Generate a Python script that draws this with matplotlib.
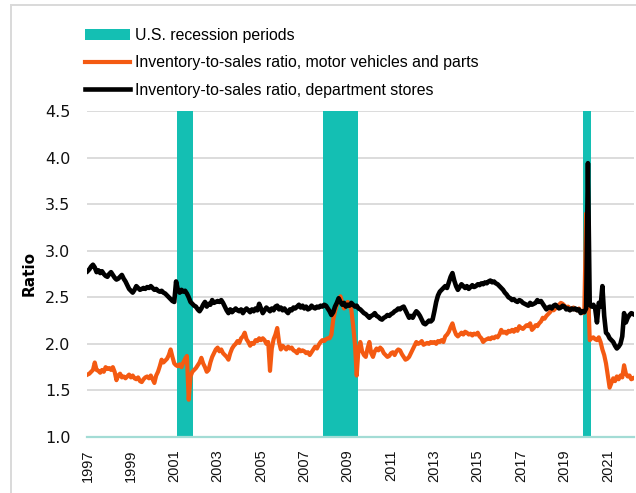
import pandas as pd
import numpy as np
import matplotlib
matplotlib.use("Agg")
import matplotlib.pyplot as plt
from matplotlib import ticker
import matplotlib.patches as patches
from matplotlib.lines import Line2D

TEAL = '#14BFB3'
ORANGE = '#F45A12'
BLACK = '#000000'
GRID = '#D9D9D9'
AXIS_TEAL = '#A3DCD5'

SANS = 'Liberation Sans'

# monthly inventory-to-sales ratios, Jan 1997 onwards (one row per year)
motor_vehicles = [
    1.67, 1.68, 1.70, 1.72, 1.80, 1.72, 1.71, 1.69, 1.72, 1.70, 1.75, 1.73,
    1.74, 1.72, 1.75, 1.70, 1.61, 1.66, 1.68, 1.64, 1.65, 1.63, 1.65, 1.67,
    1.64, 1.66, 1.63, 1.62, 1.64, 1.60, 1.59, 1.62, 1.64, 1.65, 1.63, 1.66,
    1.62, 1.58, 1.66, 1.70, 1.76, 1.83, 1.80, 1.82, 1.84, 1.88, 1.94, 1.86,
    1.79, 1.77, 1.76, 1.78, 1.75, 1.80, 1.84, 1.87, 1.40, 1.65, 1.70, 1.72,
    1.74, 1.77, 1.80, 1.85, 1.79, 1.75, 1.70, 1.72, 1.80, 1.86, 1.90, 1.94,
    1.96, 1.92, 1.94, 1.90, 1.88, 1.86, 1.83, 1.90, 1.95, 1.98, 2.00, 2.03,
    2.01, 2.06, 2.08, 2.12, 2.05, 2.02, 1.98, 2.01, 2.00, 2.04, 2.03, 2.06,
    2.04, 2.06, 2.04, 2.00, 2.02, 1.71, 1.95, 2.05, 2.10, 2.17, 2.02, 1.94,
    1.98, 1.96, 1.94, 1.97, 1.95, 1.96, 1.93, 1.92, 1.90, 1.94, 1.92, 1.93,
    1.92, 1.90, 1.91, 1.88, 1.91, 1.94, 1.97, 1.95, 1.99, 2.02, 2.04, 2.03,
    2.05, 2.06, 2.06, 2.10, 2.26, 2.35, 2.42, 2.47, 2.51, 2.44, 2.38, 2.42,
    2.45, 2.41, 2.37, 2.20, 2.00, 1.66, 1.95, 2.02, 1.92, 1.88, 1.86, 1.95,
    2.02, 1.90, 1.86, 1.92, 1.95, 1.93, 1.96, 1.94, 1.90, 1.88, 1.86, 1.87,
    1.90, 1.91, 1.88, 1.92, 1.94, 1.93, 1.89, 1.86, 1.83, 1.84, 1.86, 1.90,
    1.94, 1.98, 2.02, 2.00, 2.01, 2.03, 1.99, 2.00, 2.01, 2.00, 2.02, 2.01,
    2.02, 2.00, 2.03, 2.02, 2.04, 2.02, 2.08, 2.10, 2.13, 2.18, 2.22, 2.15,
    2.10, 2.08, 2.10, 2.12, 2.10, 2.13, 2.12, 2.10, 2.11, 2.09, 2.11, 2.10,
    2.12, 2.08, 2.06, 2.02, 2.04, 2.05, 2.06, 2.05, 2.07, 2.06, 2.08, 2.07,
    2.10, 2.15, 2.12, 2.13, 2.11, 2.14, 2.13, 2.15, 2.13, 2.16, 2.14, 2.19,
    2.17, 2.16, 2.18, 2.20, 2.19, 2.22, 2.15, 2.17, 2.20, 2.19, 2.22, 2.24,
    2.28, 2.27, 2.30, 2.32, 2.34, 2.37, 2.36, 2.38, 2.40, 2.42, 2.44, 2.43,
    2.41, 2.39, 2.40, 2.38, 2.37, 2.39, 2.37, 2.36, 2.38, 2.35, 2.33, 2.34,
    3.40, 2.60, 2.04, 2.06, 2.07, 2.05, 2.04, 2.07, 2.02, 1.94, 1.88, 1.79,
    1.66, 1.53, 1.58, 1.63, 1.60, 1.65, 1.62, 1.66, 1.64, 1.77, 1.68, 1.65,
    1.66, 1.62, 1.63,
]

dept_stores = [
    2.78, 2.80, 2.83, 2.85, 2.82, 2.77, 2.79, 2.76, 2.78, 2.75, 2.73, 2.72,
    2.75, 2.77, 2.74, 2.71, 2.69, 2.70, 2.72, 2.74, 2.70, 2.67, 2.63, 2.59,
    2.57, 2.55, 2.58, 2.62, 2.60, 2.58, 2.59, 2.60, 2.59, 2.61, 2.60, 2.62,
    2.60, 2.58, 2.59, 2.57, 2.56, 2.57, 2.55, 2.54, 2.52, 2.50, 2.48, 2.46,
    2.45, 2.67, 2.58, 2.55, 2.58, 2.56, 2.57, 2.54, 2.50, 2.45, 2.43, 2.41,
    2.40, 2.37, 2.35, 2.38, 2.42, 2.45, 2.40, 2.43, 2.42, 2.47, 2.44, 2.45,
    2.46, 2.45, 2.47, 2.44, 2.40, 2.36, 2.33, 2.37, 2.34, 2.36, 2.38, 2.36,
    2.35, 2.37, 2.33, 2.36, 2.38, 2.36, 2.34, 2.37, 2.35, 2.38, 2.36, 2.43,
    2.38, 2.33, 2.36, 2.39, 2.37, 2.35, 2.38, 2.36, 2.40, 2.41, 2.37, 2.39,
    2.36, 2.38, 2.35, 2.33, 2.37, 2.36, 2.39, 2.38, 2.40, 2.42, 2.39, 2.41,
    2.38, 2.40, 2.37, 2.38, 2.41, 2.39, 2.38, 2.40, 2.39, 2.41, 2.40, 2.42,
    2.41, 2.38, 2.35, 2.31, 2.34, 2.40, 2.44, 2.49, 2.45, 2.42, 2.44, 2.40,
    2.42, 2.41, 2.44, 2.42, 2.40, 2.41, 2.38, 2.37, 2.35, 2.33, 2.32, 2.30,
    2.28, 2.30, 2.31, 2.33, 2.30, 2.29, 2.27, 2.26, 2.28, 2.29, 2.31, 2.30,
    2.32, 2.33, 2.35, 2.36, 2.38, 2.37, 2.39, 2.40, 2.36, 2.32, 2.28, 2.30,
    2.28, 2.32, 2.35, 2.33, 2.30, 2.26, 2.22, 2.21, 2.23, 2.25, 2.24, 2.26,
    2.35, 2.45, 2.52, 2.56, 2.58, 2.60, 2.62, 2.60, 2.66, 2.72, 2.76, 2.68,
    2.62, 2.58, 2.61, 2.64, 2.62, 2.60, 2.62, 2.59, 2.61, 2.63, 2.61, 2.62,
    2.64, 2.63, 2.65, 2.64, 2.66, 2.65, 2.67, 2.68, 2.66, 2.67, 2.65, 2.64,
    2.62, 2.60, 2.58, 2.55, 2.53, 2.50, 2.49, 2.47, 2.48, 2.46, 2.45, 2.47,
    2.46, 2.44, 2.43, 2.42, 2.41, 2.44, 2.42, 2.43, 2.44, 2.47, 2.45, 2.46,
    2.43, 2.40, 2.37, 2.39, 2.40, 2.38, 2.41, 2.42, 2.40, 2.38, 2.39, 2.41,
    2.40, 2.37, 2.38, 2.36, 2.38, 2.37, 2.38, 2.36, 2.37, 2.33, 2.35, 2.34,
    2.38, 3.94, 2.42, 2.40, 2.42, 2.38, 2.23, 2.44, 2.40, 2.62, 2.30, 2.12,
    2.10, 2.06, 2.04, 2.02, 1.98, 1.95, 1.97, 2.00, 2.08, 2.33, 2.23, 2.28,
    2.31, 2.33, 2.32,
]

recessions = [('2001-03', '2001-11'), ('2007-12', '2009-06'), ('2019-12', '2020-03')]
year_labels = [str(y) for y in range(1997, 2022, 2)]
y_ticks = [1.0, 1.5, 2.0, 2.5, 3.0, 3.5, 4.0, 4.5]

months = pd.period_range('1997-01', periods=len(dept_stores), freq='M')
x = np.arange(len(months))

fig = plt.figure(figsize=(6.36, 4.93), dpi=100)
ax = fig.add_axes([87 / 636, 1 - 437 / 493, 547 / 636, 326 / 493])

for start, end in recessions:
    i0 = months.get_loc(pd.Period(start, freq='M'))
    i1 = months.get_loc(pd.Period(end, freq='M'))
    ax.axvspan(i0 - 0.5, i1 + 0.5, color=TEAL, lw=0, zorder=2)

ax.plot(x, motor_vehicles, color=ORANGE, lw=3.0, zorder=3, solid_joinstyle='round')
ax.plot(x, dept_stores, color=BLACK, lw=3.3, zorder=4, solid_joinstyle='round')

ax.set_ylim(1.0, 4.5)
ax.set_xlim(-0.3, len(x) - 0.5)
ax.set_yticks(y_ticks)
ax.yaxis.set_major_formatter(ticker.FormatStrFormatter('%.1f'))
ax.set_xticks([months.get_loc(pd.Period(y + '-01', freq='M')) for y in year_labels])
ax.set_xticklabels(year_labels)

ax.grid(axis='y', color=GRID, lw=1.3, zorder=1)
ax.set_axisbelow(True)
for s in ['top', 'right', 'left']:
    ax.spines[s].set_visible(False)
ax.spines['bottom'].set_color(AXIS_TEAL)
ax.spines['bottom'].set_linewidth(1.6)
ax.spines['bottom'].set_zorder(5)
ax.tick_params(axis='both', length=0, labelcolor='#111111')
ax.tick_params(axis='y', pad=12, labelsize=11.5)
ax.tick_params(axis='x', pad=9, labelsize=10.5, labelrotation=90)
for lab in ax.get_xticklabels():
    lab.set_family(SANS)
ax.set_ylabel('Ratio', fontsize=11, fontweight='bold', labelpad=6)

handles = [patches.Patch(color=TEAL, lw=0),
           Line2D([], [], color=ORANGE, lw=3.0),
           Line2D([], [], color=BLACK, lw=3.3)]
labels = ['U.S. recession periods',
          'Inventory-to-sales ratio, motor vehicles and parts',
          'Inventory-to-sales ratio, department stores']
fig.legend(handles, labels, loc='upper left', bbox_to_anchor=(85 / 636, 1 - 28 / 493),
           frameon=False, borderpad=0, borderaxespad=0, handlelength=2.85,
           handleheight=0.75, handletextpad=0.3, labelspacing=0.78,
           prop={'family': SANS, 'size': 11.4})

# light frame around the panel
fig.patches.append(patches.Rectangle((11 / 636, -0.05), 1.2, 1.05 - 5.5 / 493,
                                     transform=fig.transFigure, fill=False,
                                     ec=GRID, lw=1.4))

fig.savefig('out.png', dpi=100)
